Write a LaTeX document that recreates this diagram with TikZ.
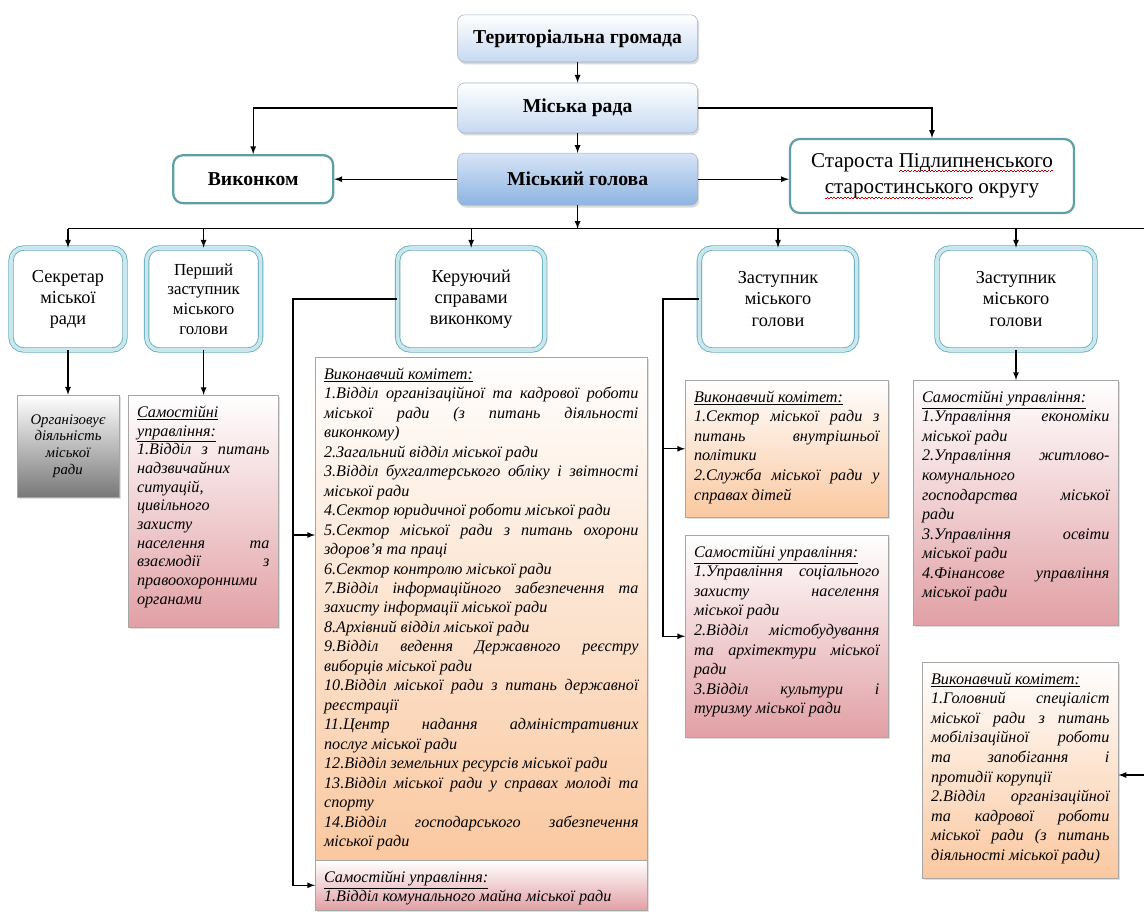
\documentclass[tikz,border=0pt]{standalone}
\usepackage{fontspec}
\setmainfont{Liberation Serif}
\usepackage{xcolor}
\usetikzlibrary{shapes,arrows,shadows,calc}

\definecolor{boxblue}{RGB}{198,217,241}
\definecolor{boxblueD}{RGB}{141,180,226}
\definecolor{framegray}{RGB}{160,178,200}
\definecolor{tealframe}{RGB}{95,160,165}
\definecolor{dblframe}{RGB}{105,172,188}
\definecolor{dblfill}{RGB}{200,232,238}
\definecolor{peach}{RGB}{250,200,160}
\definecolor{rose}{RGB}{225,160,165}
\definecolor{greyfill}{RGB}{120,120,120}

\newcommand{\cbox}[4]{\parbox[t][\dimexpr#2-0.4cm\relax][t]{\dimexpr#1-0.44cm\relax}{\itshape\fontsize{11.5pt}{#3}\selectfont\hyphenpenalty=10000\rule{0pt}{10pt}#4}}
\newcommand{\rwave}[1]{\setbox0\hbox{#1}\rlap{\color{red!75!black}\hbox to \wd0{\xleaders\hbox to 2.4pt{\rule[-3.6pt]{1.2pt}{0.6pt}\rule[-2.8pt]{1.2pt}{0.6pt}}\hfill}}\box0\relax}

\tikzset{
	topbox/.style={draw=framegray, rounded corners=5pt, top color=white, bottom color=boxblue, minimum width=6cm, font=\fontsize{14pt}{16pt}\selectfont\bfseries, drop shadow={opacity=0.3,shadow xshift=0.04cm,shadow yshift=-0.06cm}},
	tealbox/.style={draw=tealframe, line width=1.6pt, rounded corners=7pt, fill=white, align=center},
	dblbox/.style={draw=dblframe, line width=0.6pt, double=dblfill, double distance=2.6pt, rounded corners=9pt, fill=white, align=center, minimum height=2.55cm, font=\fontsize{13pt}{15pt}\selectfont},
	infobox/.style={draw=gray!70, anchor=north west, inner xsep=0.22cm, inner ysep=0.2cm, drop shadow={opacity=0.25,shadow xshift=0.05cm,shadow yshift=-0.05cm}},
	orangebox/.style={infobox, top color=white, bottom color=peach},
	pinkbox/.style={infobox, top color=white, bottom color=rose},
	greybox/.style={infobox, top color=white, bottom color=greyfill},
	arr/.style={->, line width=0.9pt},
	line/.style={line width=0.9pt}
}

\begin{document}
\begin{tikzpicture}[>=latex]
	\useasboundingbox (0,0) rectangle (28.6,-22.85);
	\node[topbox, minimum height=1.18cm] (terr) at (14.44,-0.96) {Територіальна громада};
	\node[topbox, minimum height=1.25cm] (rada) at (14.44,-2.7) {Міська рада};
	\node[topbox, minimum height=1.3cm, top color=boxblue!70, bottom color=boxblueD] (golova) at (14.44,-4.48) {Міський голова};
	\node[tealbox, minimum width=4cm, minimum height=1.2cm, font=\fontsize{14pt}{16pt}\selectfont\bfseries] (vykonkom) at (6.33,-4.48) {Виконком};
	\node[tealbox, minimum width=7.1cm, minimum height=1.85cm, font=\fontsize{15pt}{19pt}\selectfont] (starosta) at (23.3,-4.4) {Староста \rwave{Підлипненського}\\\rwave{старостинського} округу};

	\node[dblbox, minimum width=2.85cm] (sekr) at (1.7,-7.475) {Секретар\\міської\\ради};
	\node[dblbox, minimum width=2.85cm, font=\fontsize{12pt}{14pt}\selectfont] (pershyi) at (5.09,-7.475) {Перший\\заступник\\міського\\голови};
	\node[dblbox, minimum width=3.68cm] (keruy) at (11.78,-7.475) {Керуючий\\справами\\виконкому};
	\node[dblbox, minimum width=3.93cm] (zast1) at (19.45,-7.475) {Заступник\\міського\\голови};
	\node[dblbox, minimum width=3.95cm] (zast2) at (25.4,-7.475) {Заступник\\міського\\голови};

	\node[greybox, anchor=center, minimum width=2.5cm, minimum height=2.55cm, text width=2.1cm, align=center, font=\itshape\fontsize{10.5pt}{12pt}\selectfont] (org) at (1.7,-11.15) {Організовує\\діяльність\\міської\\ради};
	\node[pinkbox] (samL) at (3.2,-9.875) {\cbox{3.75cm}{5.8cm}{13.3pt}{\underline{Самостійні}\\\underline{управління:}\\
		1.Відділ з питань \linebreak надзвичайних \linebreak ситуацій, \linebreak цивільного \linebreak захисту \linebreak населення та \linebreak взаємодії з \linebreak правоохоронними \linebreak органами}};
	\node[orangebox] (vykBig) at (7.875,-8.925) {\cbox{8.3cm}{12.575cm}{13.85pt}{\underline{Виконавчий комітет:}\\
		1.Відділ організаційної та кадрової роботи \linebreak міської ради (з питань діяльності \linebreak виконкому)\par
		2.Загальний відділ міської ради\par
		3.Відділ бухгалтерського обліку і звітності \linebreak міської ради\par
		4.Сектор юридичної роботи міської ради\par
		5.Сектор міської ради з питань охорони \linebreak здоров’я та праці\par
		6.Сектор контролю міської ради\par
		7.Відділ інформаційного забезпечення та \linebreak захисту інформації міської ради\par
		8.Архівний відділ міської ради\par
		9.Відділ ведення Державного реєстру \linebreak виборців міської ради\par
		10.Відділ міської ради з питань державної \linebreak реєстрації\par
		11.Центр надання адміністративних \linebreak послуг міської ради\par
		12.Відділ земельних ресурсів міської ради\par
		13.Відділ міської ради у справах молоді та \linebreak спорту\par
		14.Відділ господарського забезпечення \linebreak міської ради}};
	\node[pinkbox] (samBig) at (7.875,-21.5) {\cbox{8.3cm}{1.25cm}{13.9pt}{\underline{Самостійні управління:}\\
		1.Відділ комунального майна міської ради}};
	\node[orangebox] (vyk1) at (17.125,-9.5) {\cbox{5.075cm}{3.425cm}{13.9pt}{\underline{Виконавчий комітет:}\\
		1.Сектор міської ради з \linebreak питань внутрішньої \linebreak політики\par
		2.Служба міської ради у \linebreak справах дітей}};
	\node[pinkbox] (sam1) at (17.125,-13.375) {\cbox{5.075cm}{5.05cm}{13.9pt}{\underline{Самостійні управління:}\\
		1.Управління соціального \linebreak захисту населення \linebreak міської ради\par
		2.Відділ містобудування \linebreak та архітектури міської \linebreak ради\par
		3.Відділ культури і \linebreak туризму міської ради}};
	\node[pinkbox] (sam2) at (22.825,-9.5) {\cbox{5.125cm}{6.125cm}{13.9pt}{\underline{Самостійні управління:}\\
		1.Управління економіки \linebreak міської ради\par
		2.Управління житлово-\linebreak комунального \linebreak господарства міської \linebreak ради\par
		3.Управління освіти \linebreak міської ради\par
		4.Фінансове управління \linebreak міської ради}};
	\node[orangebox] (vyk2) at (23.05,-16.55) {\cbox{4.9cm}{5.4cm}{13.9pt}{\underline{Виконавчий комітет:}\\
		1.Головний спеціаліст \linebreak міської ради з питань \linebreak мобілізаційної роботи \linebreak та запобігання і \linebreak протидії корупції\par
		2.Відділ організаційної \linebreak та кадрової роботи \linebreak міської ради (з питань \linebreak діяльності міської ради)}};

	\draw[arr] (terr) -- (rada);
	\draw[arr] (rada) -- (golova);
	\draw[arr] (rada.west) -| (vykonkom.north);
	\draw[arr] (rada.east) -| (starosta.north);
	\draw[arr] (golova.west) -- (vykonkom.east);
	\draw[arr] (golova.east) -- (golova.east -| starosta.west);

	\coordinate (bus) at (1.7,-5.72);
	\coordinate (busend) at (28.6,-5.72);
	\draw[line] (bus) -- (busend);
	\draw[arr] (golova.south) -- (golova.south |- bus);
	\foreach \n in {sekr,pershyi,keruy,zast1,zast2}
		\draw[arr] (\n.north |- bus) -- (\n.north);

	\draw[arr] (sekr.south) -- (sekr.south |- org.north);
	\draw[arr] (pershyi.south) -- (pershyi.south |- samL.north);
	\draw[arr] (zast2.south) -- (zast2.south |- sam2.north);

	\coordinate (kl) at (7.325,-7.475);
	\coordinate (kin) at (7.875,-13.375);
	\draw[arr] (keruy.west) -- (kl) |- (samBig.west);
	\draw[arr] (kl |- kin) -- (kin);

	\coordinate (zl) at (16.575,-7.475);
	\draw[arr] (zast1.west) -- (zl) |- (sam1.west);
	\draw[arr] (zl |- vyk1.west) -- (vyk1.west);

	\coordinate (redge) at (28.6,-19.375);
	\draw[arr] (redge) -- (redge -| vyk2.east);
\end{tikzpicture}
\end{document}
